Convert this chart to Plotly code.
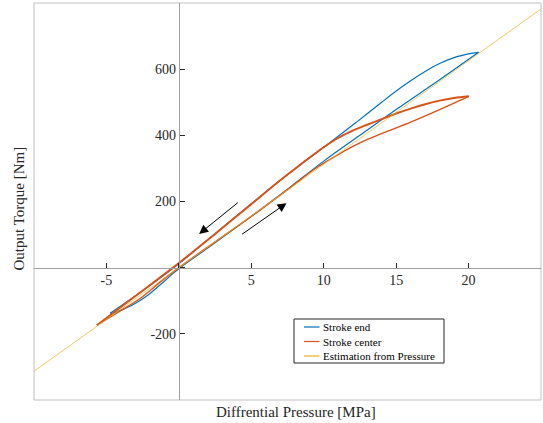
import plotly.graph_objects as go

# ---- data ----
# Stroke end (blue loop): rising-pressure branch, then falling-pressure branch
end_up_x = [-4.74, -4.3, -3.86, -3.3, -2.71, -2.1, -1.56, -1.0, -0.5, 0.0, 2.5, 5.0, 7.5, 10.0, 12.5, 15.0, 18.0, 20.69]
end_up_y = [-138, -134, -126, -115, -100, -82, -62, -41, -21, -3, 75, 155, 237, 322, 400, 478, 568, 651]
end_dn_x = [20.69, 20.0, 19.0, 18.0, 17.0, 16.0, 15.0, 14.0, 13.0, 12.0, 11.0, 10.0, 9.0, 8.0, 7.0, 5.0, 2.5, 0.0, -2.5, -4.74]
end_dn_y = [651, 646, 635, 617, 593, 565, 534, 500, 465, 431, 397, 364, 331, 298, 264, 193, 103, 12, -70, -138]

# Stroke center (orange loop)
ctr_up_x = [-5.66, -4.32, -2.71, -1.1, 0.0, 2.5, 5.0, 7.5, 9.5, 11.0, 12.5, 14.0, 16.0, 18.0, 20.02]
ctr_up_y = [-174, -138, -94, -37, 0, 78, 155, 236, 302, 342, 377, 405, 440, 478, 518]
ctr_dn_x = [20.02, 19.0, 18.0, 17.0, 16.0, 15.0, 14.0, 13.0, 12.0, 11.0, 10.0, 9.0, 8.0, 7.0, 5.0, 2.5, 0.0, -2.7, -5.66]
ctr_dn_y = [518, 513, 505, 494, 481, 466, 449, 432, 414, 392, 364, 332, 298, 264, 192, 102, 14, -76, -174]

# Estimation from pressure (straight line)
est_x = [-10, 25]
est_y = [-313, 782]

# Arrows (tail -> head)
arrow_tail_x = [4.17, 4.26]
arrow_tail_y = [200, 98]
arrow_head_x = [1.40, 7.43]
arrow_head_y = [102, 195]

x_ticks = [-10, -5, 0, 5, 10, 15, 20, 25]
x_ticktext = ["", "-5", "", "5", "10", "15", "20", ""]
y_ticks = [-400, -200, 0, 200, 400, 600, 800]
y_ticktext = ["", "-200", "", "200", "400", "600", ""]

legend_names = ["Stroke end", "Stroke center", "Estimation from Pressure"]

BLUE = "#0072BD"
ORANGE = "#D95319"
YELLOW = "#EDB120"
FONT = "Liberation Serif"
W, H = 543, 423
ML, MR, MT, MB = 34, 2, 3, 23
PW, PH = W - ML - MR, H - MT - MB


def px(xp):
    return (xp - ML) / PW


def py(yp):
    return (H - MB - yp) / PH


fig = go.Figure()
fig.add_trace(go.Scatter(x=end_up_x, y=end_up_y, mode="lines", name=legend_names[0],
                         line=dict(color=BLUE, width=1.2, shape="spline", smoothing=1),
                         showlegend=False))
fig.add_trace(go.Scatter(x=end_dn_x, y=end_dn_y, mode="lines", name=legend_names[0],
                         line=dict(color=BLUE, width=1.2, shape="spline", smoothing=1),
                         showlegend=False))
fig.add_trace(go.Scatter(x=ctr_up_x, y=ctr_up_y, mode="lines", name=legend_names[1],
                         line=dict(color=ORANGE, width=1.4, shape="spline", smoothing=1),
                         showlegend=False))
fig.add_trace(go.Scatter(x=ctr_dn_x, y=ctr_dn_y, mode="lines", name=legend_names[1],
                         line=dict(color=ORANGE, width=1.9, shape="spline", smoothing=1),
                         showlegend=False))
fig.add_trace(go.Scatter(x=est_x, y=est_y, mode="lines", name=legend_names[2],
                         line=dict(color=YELLOW, width=0.7), showlegend=False))

for tx, ty, hx, hy in zip(arrow_tail_x, arrow_tail_y, arrow_head_x, arrow_head_y):
    fig.add_annotation(x=hx, y=hy, ax=tx, ay=ty, xref="x", yref="y", axref="x", ayref="y",
                       text="", showarrow=True, arrowhead=2, arrowsize=1.8, arrowwidth=1,
                       arrowcolor="#000000")

axis_common = dict(showgrid=False, zeroline=False, showline=True, linecolor="#a0a0a0",
                   linewidth=1, ticks="inside", ticklen=5, tickwidth=1, tickcolor="#262626",
                   tickfont=dict(family=FONT, size=14, color="#262626"), fixedrange=True)

fig.update_layout(
    width=W, height=H,
    margin=dict(l=ML, r=MR, t=MT, b=MB),
    paper_bgcolor="white", plot_bgcolor="white",
    xaxis=dict(range=[-10, 25], tickmode="array", tickvals=x_ticks, ticktext=x_ticktext,
               anchor="free", position=400 / 1200, **axis_common),
    yaxis=dict(range=[-400, 800], tickmode="array", tickvals=y_ticks, ticktext=y_ticktext,
               anchor="free", position=10 / 35, **axis_common),
    showlegend=False,
    hovermode=False,
)

# axes box
fig.add_shape(type="rect", xref="paper", yref="paper", x0=0, y0=0, x1=1, y1=1,
              line=dict(color="#c0c0c0", width=1), layer="below")

# legend box (drawn like the MATLAB legend)
fig.add_shape(type="rect", xref="paper", yref="paper", x0=px(294), x1=px(444),
              y0=py(363), y1=py(319), line=dict(color="#262626", width=1),
              fillcolor="white", layer="above")
for i, (nm, col) in enumerate(zip(legend_names, [BLUE, ORANGE, YELLOW])):
    yy = 327 + 14.5 * i
    fig.add_shape(type="line", xref="paper", yref="paper", x0=px(304), x1=px(319.5),
                  y0=py(yy), y1=py(yy), line=dict(color=col, width=1.2), layer="above")
    fig.add_annotation(text=nm, xref="paper", yref="paper", x=px(321), y=py(yy),
                       xanchor="left", yanchor="middle", showarrow=False,
                       font=dict(family=FONT, size=11, color="#000000"))

fig.add_annotation(text="Output Torque [Nm]", xref="paper", yref="paper", x=px(18), y=py(208.5),
                   textangle=-90, showarrow=False, xanchor="center", yanchor="middle",
                   font=dict(family=FONT, size=15, color="#262626"))
fig.add_annotation(text="Diffrential Pressure [MPa]", xref="paper", yref="paper", x=px(296),
                   y=py(412), showarrow=False, xanchor="center", yanchor="middle",
                   font=dict(family=FONT, size=15, color="#262626"))

fig.write_html("out.html", config={"displayModeBar": False, "staticPlot": True},
               post_script="document.body.style.margin='0';document.body.style.padding='0';")
